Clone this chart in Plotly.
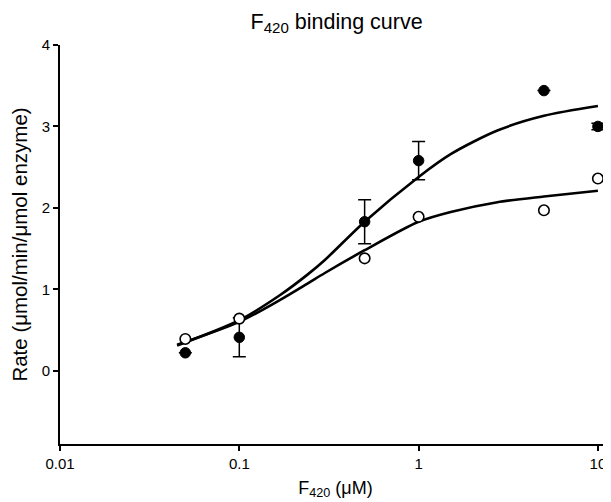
import plotly.graph_objects as go

# Measured data (F420 concentration in uM)
conc = [0.05, 0.1, 0.5, 1, 5, 10]
rate_filled = [0.22, 0.41, 1.83, 2.58, 3.44, 3.00]
err_filled = [0.0, 0.24, 0.27, 0.235, 0.0, 0.04]
rate_open = [0.39, 0.64, 1.38, 1.89, 1.97, 2.36]

# Fitted curves
fit_x = [0.045, 0.1, 0.169, 0.24, 0.3, 0.5, 1, 1.51, 2.75, 5, 10]
fit_filled = [0.31, 0.62, 0.93, 1.18, 1.36, 1.83, 2.38, 2.66, 2.95, 3.13, 3.25]
fit_open = [0.32, 0.60, 0.87, 1.07, 1.20, 1.48, 1.83, 1.95, 2.07, 2.14, 2.21]

x_tickvals = [0.01, 0.1, 1, 10]
x_ticktext = ["0.01", "0.1", "1", "10"]
y_tickvals = [0, 1, 2, 3, 4]

FONT = "Liberation Sans, Arial, Helvetica, sans-serif"

fig = go.Figure()

for fy in (fit_filled, fit_open):
    fig.add_trace(go.Scatter(
        x=fit_x, y=fy, mode="lines",
        line=dict(color="black", width=2.6, shape="spline", smoothing=0.8),
        hoverinfo="skip", showlegend=False))

fig.add_trace(go.Scatter(
    x=conc, y=rate_filled, mode="markers",
    marker=dict(symbol="circle", size=10.5, color="black", line=dict(color="black", width=1)),
    error_y=dict(type="data", array=err_filled, visible=True, color="black",
                 thickness=1.5, width=6.5),
    showlegend=False))

fig.add_trace(go.Scatter(
    x=conc, y=rate_open, mode="markers",
    marker=dict(symbol="circle", size=10.5, color="white", line=dict(color="black", width=1.6)),
    showlegend=False))

# The page body adds an 8 px offset, so the figure is sized to fit the window.
fig.update_layout(
    width=603, height=494,
    margin=dict(l=52, r=0, t=37, b=58, autoexpand=False),
    paper_bgcolor="white", plot_bgcolor="white",
    font=dict(family=FONT, color="black", size=15),
    title=dict(text="F<sub>420</sub> binding curve", x=0.545, xanchor="center",
               y=0.973, yanchor="middle", font=dict(size=21.5, family=FONT)),
)

fig.update_xaxes(
    type="log", range=[-2, 1.073],
    tickvals=x_tickvals, ticktext=x_ticktext,
    showgrid=False, zeroline=False,
    showline=True, linecolor="black", linewidth=2,
    ticks="outside", ticklen=5, tickwidth=1.5, tickcolor="black",
    tickfont=dict(size=15), automargin=False,
    title=dict(text="F<sub>420</sub> (μM)", font=dict(size=18), standoff=10),
)

fig.update_yaxes(
    range=[-0.9, 4],
    tickvals=y_tickvals,
    showgrid=False, zeroline=False,
    showline=True, linecolor="black", linewidth=2,
    ticks="outside", ticklen=5, tickwidth=1.5, tickcolor="black",
    tickfont=dict(size=15), automargin=False,
    title=dict(text="Rate (μmol/min/μmol enzyme)", font=dict(size=20.5), standoff=12),
)

fig.write_html("out.html")
